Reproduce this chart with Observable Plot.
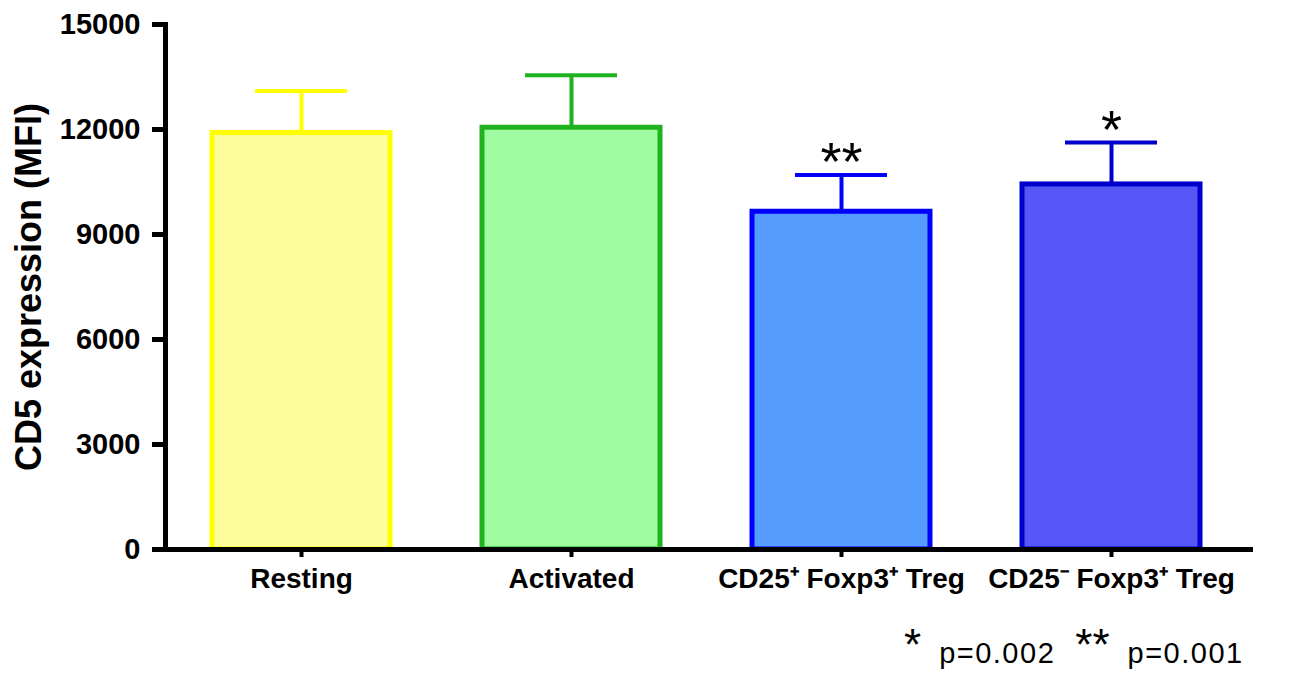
<!DOCTYPE html>
<html>
<head>
<meta charset="utf-8">
<script src="https://cdn.jsdelivr.net/npm/d3@7"></script>
<script src="https://cdn.jsdelivr.net/npm/@observablehq/plot@0.6"></script>
<style>
  body { margin: 0; background: #fff; font-family: "Liberation Sans", Arial, sans-serif; }
  #wrap { position: relative; width: 1290px; height: 675px; overflow: hidden; }
  #foot { position: absolute; left: 904px; top: 626px; display: flex; align-items: baseline; white-space: nowrap; color: #000; }
  #foot .m { font-size: 44px; line-height: 1; position: relative; top: -3px; }
  #foot .p { font-size: 29px; line-height: 1; letter-spacing: 1.5px; margin-left: 18px; margin-right: 20px; }
</style>
</head>
<body>
<div id="wrap"><div id="chart"></div><div id="foot"></div></div>
<script>
const categories = ["Resting", "Activated", "CD25+ Foxp3+ Treg", "CD25- Foxp3+ Treg"];
const tickLabels = ["Resting", "Activated", "CD25⁺ Foxp3⁺ Treg", "CD25⁻ Foxp3⁺ Treg"];
const means = [11900, 12050, 9650, 10430];
const upperErr = [13100, 13550, 10700, 11630];
const fills = ["#fdfd9e", "#a0fca0", "#559cfd", "#5757f8"];
const strokes = ["#ffff00", "#1fb31f", "#0000ff", "#0000cc"];
const significance = ["", "", "**", "*"];
const yTicks = [0, 3000, 6000, 9000, 12000, 15000];
const yLabel = "CD5 expression (MFI)";
const footMarks = ["*", "**"];
const footP = ["p=0.002", "p=0.001"];

const data = categories.map((c, i) => ({
  cat: c, mean: means[i], upper: upperErr[i], fill: fills[i], stroke: strokes[i], sig: significance[i]
}));

const font = '"Liberation Sans", Arial, sans-serif';

const chart = Plot.plot({
  width: 1290,
  height: 610,
  marginLeft: 165,
  marginRight: 37,
  marginTop: 24,
  marginBottom: 61,
  style: { fontFamily: font, background: "#fff", color: "#000" },
  x: { domain: categories, paddingInner: 0.339, paddingOuter: 0.177, align: 0.474, label: null },
  y: { domain: [0, 15000], label: null },
  color: { type: "identity" },
  marks: [
    Plot.barY(data, { x: "cat", y: "mean", fill: "fill", stroke: "stroke", strokeWidth: 5 }),
    Plot.ruleX(data, { x: "cat", y1: "mean", y2: "upper", stroke: "stroke", strokeWidth: 4 }),
    Plot.tickY(data, { x: "cat", y: "upper", stroke: "stroke", strokeWidth: 4, insetLeft: 43, insetRight: 43 }),
    Plot.text(data, { x: "cat", y: "upper", text: "sig", fontSize: 54, lineAnchor: "top", dy: -33, fill: "#000" }),
    Plot.axisY({ ticks: yTicks, tickSize: 13, strokeWidth: 5, tickPadding: 12, fontSize: 29, fontWeight: "bold", label: null, tickFormat: d => String(d) }),
    Plot.axisX({ tickSize: 8, strokeWidth: 4, tickPadding: 11, fontSize: 28, fontWeight: "bold", label: null, tickFormat: d => tickLabels[categories.indexOf(d)] }),
    Plot.frame({ anchor: "left", strokeWidth: 5 }),
    Plot.ruleY([0], { strokeWidth: 5 }),
    Plot.text([yLabel], { frameAnchor: "left", textAnchor: "middle", rotate: -90, dx: -136, fontSize: 36, fontWeight: "bold" })
  ]
});
document.getElementById("chart").appendChild(chart);

const foot = document.getElementById("foot");
footMarks.forEach((m, i) => {
  const a = document.createElement("span"); a.className = "m"; a.textContent = m;
  const b = document.createElement("span"); b.className = "p"; b.textContent = footP[i];
  foot.appendChild(a); foot.appendChild(b);
});
</script>
</body>
</html>
